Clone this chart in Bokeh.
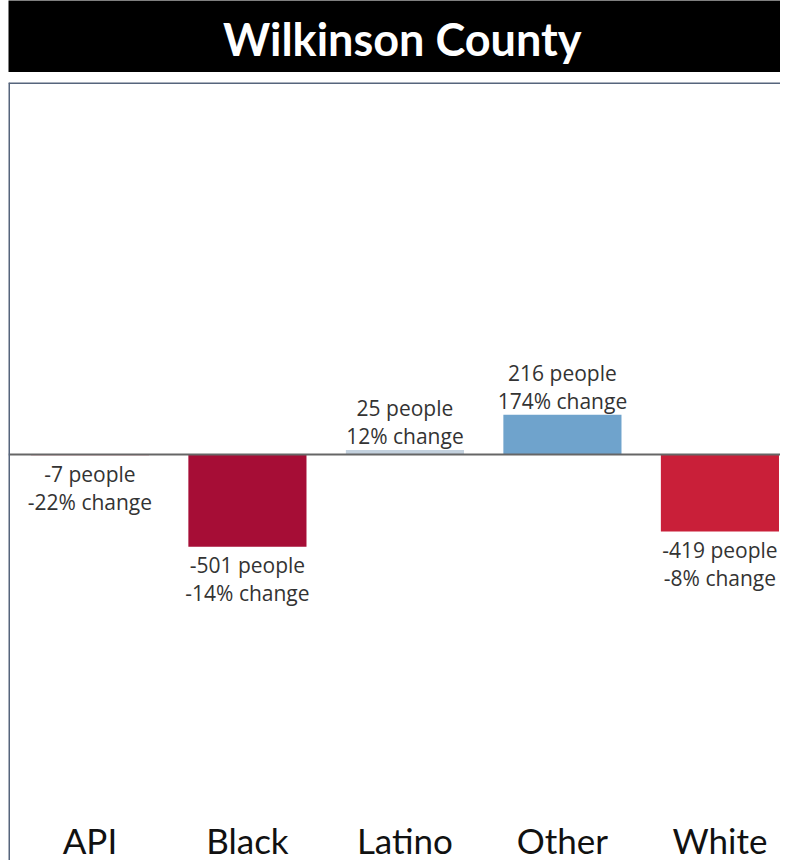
from bokeh.plotting import figure
from bokeh.models import ColumnDataSource, Span, Range1d
from bokeh.layouts import column
from bokeh.core.properties import value
from bokeh.embed import file_html
from bokeh.resources import INLINE

title_text = "Wilkinson County"
categories = ["API", "Black", "Latino", "Other", "White"]
people_change = [-7, -501, 25, 216, -419]
pct_change = [-22, -14, 12, 174, -8]
bar_colors = ["#f0c9cf", "#a60d36", "#c3d1de", "#6fa3cc", "#c91f39"]

xs = list(range(len(categories)))
people_labels = [f"{v} people" for v in people_change]
pct_labels = [f"{v}% change" for v in pct_change]
people_off = [-42 if v > 0 else 18 for v in people_change]
pct_off = [-14 if v > 0 else 46 for v in people_change]

src = ColumnDataSource(dict(x=xs, cat=categories, val=people_change, color=bar_colors,
                            plab=people_labels, clab=pct_labels,
                            poff=people_off, coff=pct_off))

W = 780
# title bar
t = figure(width=W, height=72, x_range=Range1d(0, 1), y_range=Range1d(0, 1),
           toolbar_location=None, output_backend="svg",
           x_axis_type=None, y_axis_type=None, min_border=0, min_border_left=5,
           background_fill_color="black", border_fill_color="white",
           outline_line_color=None)
t.grid.visible = False
t.text(x=[0.51], y=[0.46], text=[title_text], text_color="white",
       text_font=value("Lato"), text_font_style="bold", text_font_size="45px",
       text_align="center", text_baseline="middle")

x0 = -0.517
x1 = x0 + 772 / 157.5
y0, y1 = -2207, 2022
p = figure(width=W, height=778, x_range=Range1d(x0, x1), y_range=Range1d(y0, y1),
           toolbar_location=None, output_backend="svg",
           x_axis_type=None, y_axis_type=None, min_border=0, min_border_left=8,
           background_fill_color="white", border_fill_color="white",
           outline_line_color=None)
p.grid.visible = False

p.vbar(x="x", top="val", bottom=0, width=0.75, fill_color="color", line_color=None, source=src)

p.add_layout(Span(location=0, dimension="width", line_color="#666666", line_width=2))
p.add_layout(Span(location=x0, dimension="height", line_color="#56657c", line_width=3))
p.add_layout(Span(location=y1, dimension="width", line_color="#56657c", line_width=3))

lbl = dict(text_font=value("Open Sans"), text_font_size="21px", text_color="#333333",
           text_align="center", text_baseline="middle", source=src)
p.text(x="x", y="val", text="plab", y_offset="poff", **lbl)
p.text(x="x", y="val", text="clab", y_offset="coff", **lbl)

p.text(x="x", y=y0, text="cat", y_offset=-21, text_font=value("Lato"), text_font_size="35px",
       text_color="#111111", text_align="center", text_baseline="middle", source=src)

layout = column(t, p, spacing=10)
open("out.html", "w").write(file_html(layout, INLINE))
